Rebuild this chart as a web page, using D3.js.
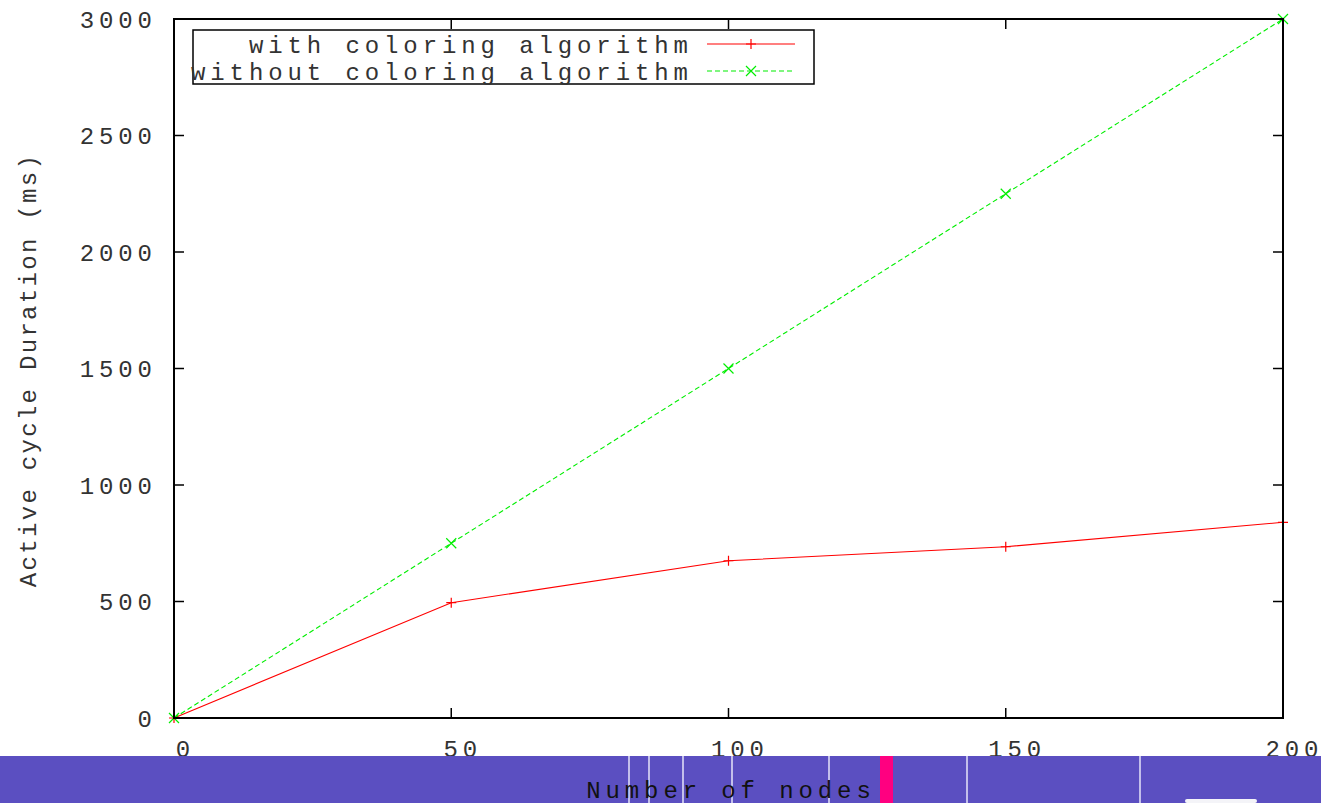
<!DOCTYPE html>
<html><head><meta charset="utf-8">
<script src="https://cdn.jsdelivr.net/npm/d3@7"></script>
<style>body{margin:0;background:#fff}svg{display:block}</style>
</head><body>
<svg id="c" width="1321" height="803"></svg>
<script>
const nodes = [0, 50, 100, 150, 200];
const withColoring = [0, 495, 675, 735, 840];
const withoutColoring = [0, 750, 1500, 2250, 3000];
const xTicks = [0, 50, 100, 150, 200];
const yTicks = [0, 500, 1000, 1500, 2000, 2500, 3000];
const seriesNames = ["with coloring algorithm", "without coloring algorithm"];
const xTitle = "Number of nodes";
const yTitle = "Active cycle Duration (ms)";

const W = 1321, H = 803;
const svg = d3.select("#c");
const L = 174, R = 1283, T = 19, B = 718;
const x = d3.scaleLinear().domain([0, 200]).range([L, R]);
const y = d3.scaleLinear().domain([0, 3000]).range([B, T]);
const FONT = "'Liberation Mono', 'Courier New', monospace";
const FS = 24, LS = 4.9;
const txtCol = "#333";

// ticks (mirror, inward)
const tk = 10;
const g = svg.append("g");
xTicks.forEach(v => {
  g.append("line").attr("x1", x(v)).attr("x2", x(v)).attr("y1", B).attr("y2", B - tk).attr("stroke", "#000").attr("stroke-width", 1.5);
  g.append("line").attr("x1", x(v)).attr("x2", x(v)).attr("y1", T).attr("y2", T + tk).attr("stroke", "#000").attr("stroke-width", 1.5);
});
yTicks.forEach(v => {
  g.append("line").attr("x1", L).attr("x2", L + tk).attr("y1", y(v)).attr("y2", y(v)).attr("stroke", "#000").attr("stroke-width", 1.5);
  g.append("line").attr("x1", R).attr("x2", R - tk).attr("y1", y(v)).attr("y2", y(v)).attr("stroke", "#000").attr("stroke-width", 1.5);
});

// y tick labels
svg.append("g").selectAll("text").data(yTicks).join("text")
  .attr("x", 152 + LS).attr("y", d => y(d) + 8.5)
  .attr("text-anchor", "end").attr("font-family", FONT).attr("font-size", FS)
  .attr("letter-spacing", LS).attr("fill", txtCol).text(d => d);

// x tick labels
svg.append("g").selectAll("text").data(xTicks).join("text")
  .attr("x", d => x(d) + 9 + LS / 2).attr("y", 757)
  .attr("text-anchor", "middle").attr("font-family", FONT).attr("font-size", FS)
  .attr("letter-spacing", LS).attr("fill", txtCol).text(d => d);

// y title
svg.append("text").attr("transform", "translate(36,370) rotate(-90)")
  .attr("text-anchor", "middle").attr("font-family", FONT).attr("font-size", FS)
  .attr("letter-spacing", 2.3).attr("fill", txtCol).text(yTitle);

// data lines
const pts1 = nodes.map((n, i) => [n, withColoring[i]]);
const pts2 = nodes.map((n, i) => [n, withoutColoring[i]]);
const line = d3.line().x(d => x(d[0])).y(d => y(d[1]));
svg.append("path").attr("d", line(pts1)).attr("fill", "none").attr("stroke", "#ff0000").attr("stroke-width", 1.1);
svg.append("path").attr("d", line(pts2)).attr("fill", "none").attr("stroke", "#00ee00").attr("stroke-width", 1.1).attr("stroke-dasharray", "5,3");

const ms = 5;
function plus(sel, cx, cy, col) {
  sel.append("path").attr("d", `M${cx - ms},${cy}H${cx + ms}M${cx},${cy - ms}V${cy + ms}`).attr("stroke", col).attr("stroke-width", 1.2).attr("fill", "none");
}
function cross(sel, cx, cy, col) {
  sel.append("path").attr("d", `M${cx - ms},${cy - ms}L${cx + ms},${cy + ms}M${cx - ms},${cy + ms}L${cx + ms},${cy - ms}`).attr("stroke", col).attr("stroke-width", 1.2).attr("fill", "none");
}
pts1.forEach(d => plus(svg, x(d[0]), y(d[1]), "#ff0000"));
pts2.forEach(d => cross(svg, x(d[0]), y(d[1]), "#00ee00"));

// frame
svg.append("rect").attr("x", L).attr("y", T).attr("width", R - L).attr("height", B - T)
  .attr("fill", "none").attr("stroke", "#000").attr("stroke-width", 2);

// legend
const lg = svg.append("g");
lg.append("rect").attr("x", 193).attr("y", 30).attr("width", 621).attr("height", 54)
  .attr("fill", "#fff").attr("stroke", "#000").attr("stroke-width", 1.5);
const rowsY = [44, 71];
const cols = ["#ff0000", "#00ee00"];
seriesNames.forEach((s, i) => {
  lg.append("text").attr("x", 688 + LS).attr("y", rowsY[i] + 8.5).attr("text-anchor", "end")
    .attr("font-family", FONT).attr("font-size", FS).attr("letter-spacing", LS).attr("fill", txtCol).text(s);
  const ln = lg.append("line").attr("x1", 707).attr("x2", 795).attr("y1", rowsY[i]).attr("y2", rowsY[i])
    .attr("stroke", cols[i]).attr("stroke-width", 1.1);
  if (i === 1) ln.attr("stroke-dasharray", "5,3");
  if (i === 0) plus(lg, 751, rowsY[i], cols[i]); else cross(lg, 751, rowsY[i], cols[i]);
});

// bottom band (overlays tick labels)
const band = svg.append("g");
band.append("rect").attr("x", 0).attr("y", 756).attr("width", W).attr("height", H - 756).attr("fill", "#5b4fc1");
[629, 649, 683, 732, 829, 967, 1140].forEach(px => {
  band.append("line").attr("x1", px).attr("x2", px).attr("y1", 756).attr("y2", H).attr("stroke", "#e6e4f8").attr("stroke-width", 1.5);
});
band.append("rect").attr("x", 880).attr("y", 756).attr("width", 13).attr("height", H - 756).attr("fill", "#ff0080");
band.append("rect").attr("x", 1185).attr("y", 799).attr("width", 72).attr("height", 4).attr("rx", 2).attr("fill", "#f4f4f8");

// x title
svg.append("text").attr("x", (L + R) / 2 + LS / 2).attr("y", 798).attr("text-anchor", "middle")
  .attr("font-family", FONT).attr("font-size", FS).attr("letter-spacing", LS).attr("fill", "#111").text(xTitle);
</script>
</body></html>
